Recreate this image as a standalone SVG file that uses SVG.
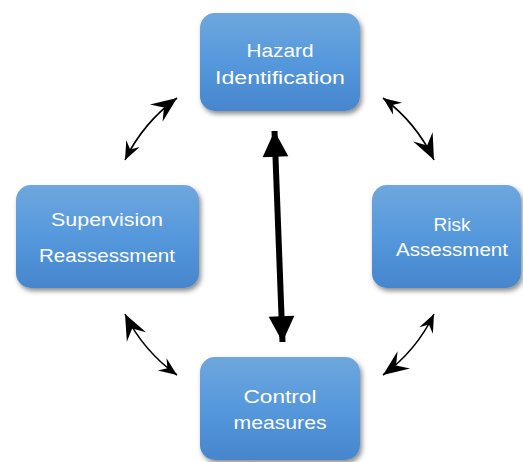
<svg xmlns="http://www.w3.org/2000/svg" width="523" height="462" viewBox="0 0 523 462">
<style>
.box{fill:url(#g);filter:url(#sh);}
.lbl{font-family:"Liberation Sans",Arial,sans-serif;font-size:18px;fill:#ffffff;text-anchor:middle;}
.thin{fill:none;stroke:#000;stroke-width:1.6;marker-end:url(#big);marker-start:url(#small);}
.thick{fill:none;stroke:#000;stroke-width:6;marker-end:url(#tri);marker-start:url(#tri);}
</style>
<defs>
<linearGradient id="g" x1="0" y1="0" x2="0" y2="1">
<stop offset="0" stop-color="#6fa7dd"/>
<stop offset="0.5" stop-color="#5598dc"/>
<stop offset="1" stop-color="#4786cc"/>
</linearGradient>
<filter id="sh" x="-20%" y="-20%" width="140%" height="150%">
<feDropShadow dx="2" dy="3" stdDeviation="2.5" flood-color="#000" flood-opacity="0.45"/>
</filter>
<marker id="big" markerUnits="userSpaceOnUse" markerWidth="30" markerHeight="30" refX="0" refY="0" viewBox="-26 -12 28 24" orient="auto-start-reverse">
<path d="M0,0 L-24,-10 L-15,0 L-24,10 Z" fill="#000"/>
</marker>
<marker id="small" markerUnits="userSpaceOnUse" markerWidth="30" markerHeight="30" refX="0" refY="0" viewBox="-26 -12 28 24" orient="auto-start-reverse">
<path d="M0,0 L-17,-7 L-11,0 L-17,7 Z" fill="#000"/>
</marker>
<marker id="tri" markerUnits="userSpaceOnUse" markerWidth="30" markerHeight="30" refX="0" refY="0" viewBox="-26 -13 28 26" orient="auto-start-reverse">
<path d="M0,0 L-24,-12 L-24,12 Z" fill="#000"/>
</marker>
</defs>
<g id="connectors">
<path class="thin" d="M125,160 Q143.3,122.6 177,98"/>
<path class="thin" d="M383,98 Q416.2,122.6 434,160"/>
<path class="thin" d="M434,314 Q416.2,351 383,375"/>
<path class="thin" d="M177,375 Q143.4,351 125,314"/>
<path class="thick" d="M274.5,131 L282.5,342"/>
</g>
<g id="hazard">
<rect class="box" x="200" y="13" width="160" height="98" rx="15"/>
<text class="lbl" x="280" y="57" textLength="67" lengthAdjust="spacingAndGlyphs">Hazard</text>
<text class="lbl" x="280" y="84" textLength="130" lengthAdjust="spacingAndGlyphs">Identification</text>
</g>
<g id="risk">
<rect class="box" x="372" y="185" width="149" height="103" rx="15"/>
<text class="lbl" x="452" y="231" textLength="37" lengthAdjust="spacingAndGlyphs">Risk</text>
<text class="lbl" x="452" y="256" textLength="112" lengthAdjust="spacingAndGlyphs">Assessment</text>
</g>
<g id="supervision">
<rect class="box" x="16" y="185" width="183" height="103" rx="15"/>
<text class="lbl" x="107" y="226" textLength="112" lengthAdjust="spacingAndGlyphs">Supervision</text>
<text class="lbl" x="107" y="262" textLength="136" lengthAdjust="spacingAndGlyphs">Reassessment</text>
</g>
<g id="control">
<rect class="box" x="200" y="357" width="160" height="103" rx="15"/>
<text class="lbl" x="280" y="403" textLength="73" lengthAdjust="spacingAndGlyphs">Control</text>
<text class="lbl" x="280" y="429" textLength="93" lengthAdjust="spacingAndGlyphs">measures</text>
</g>
</svg>
